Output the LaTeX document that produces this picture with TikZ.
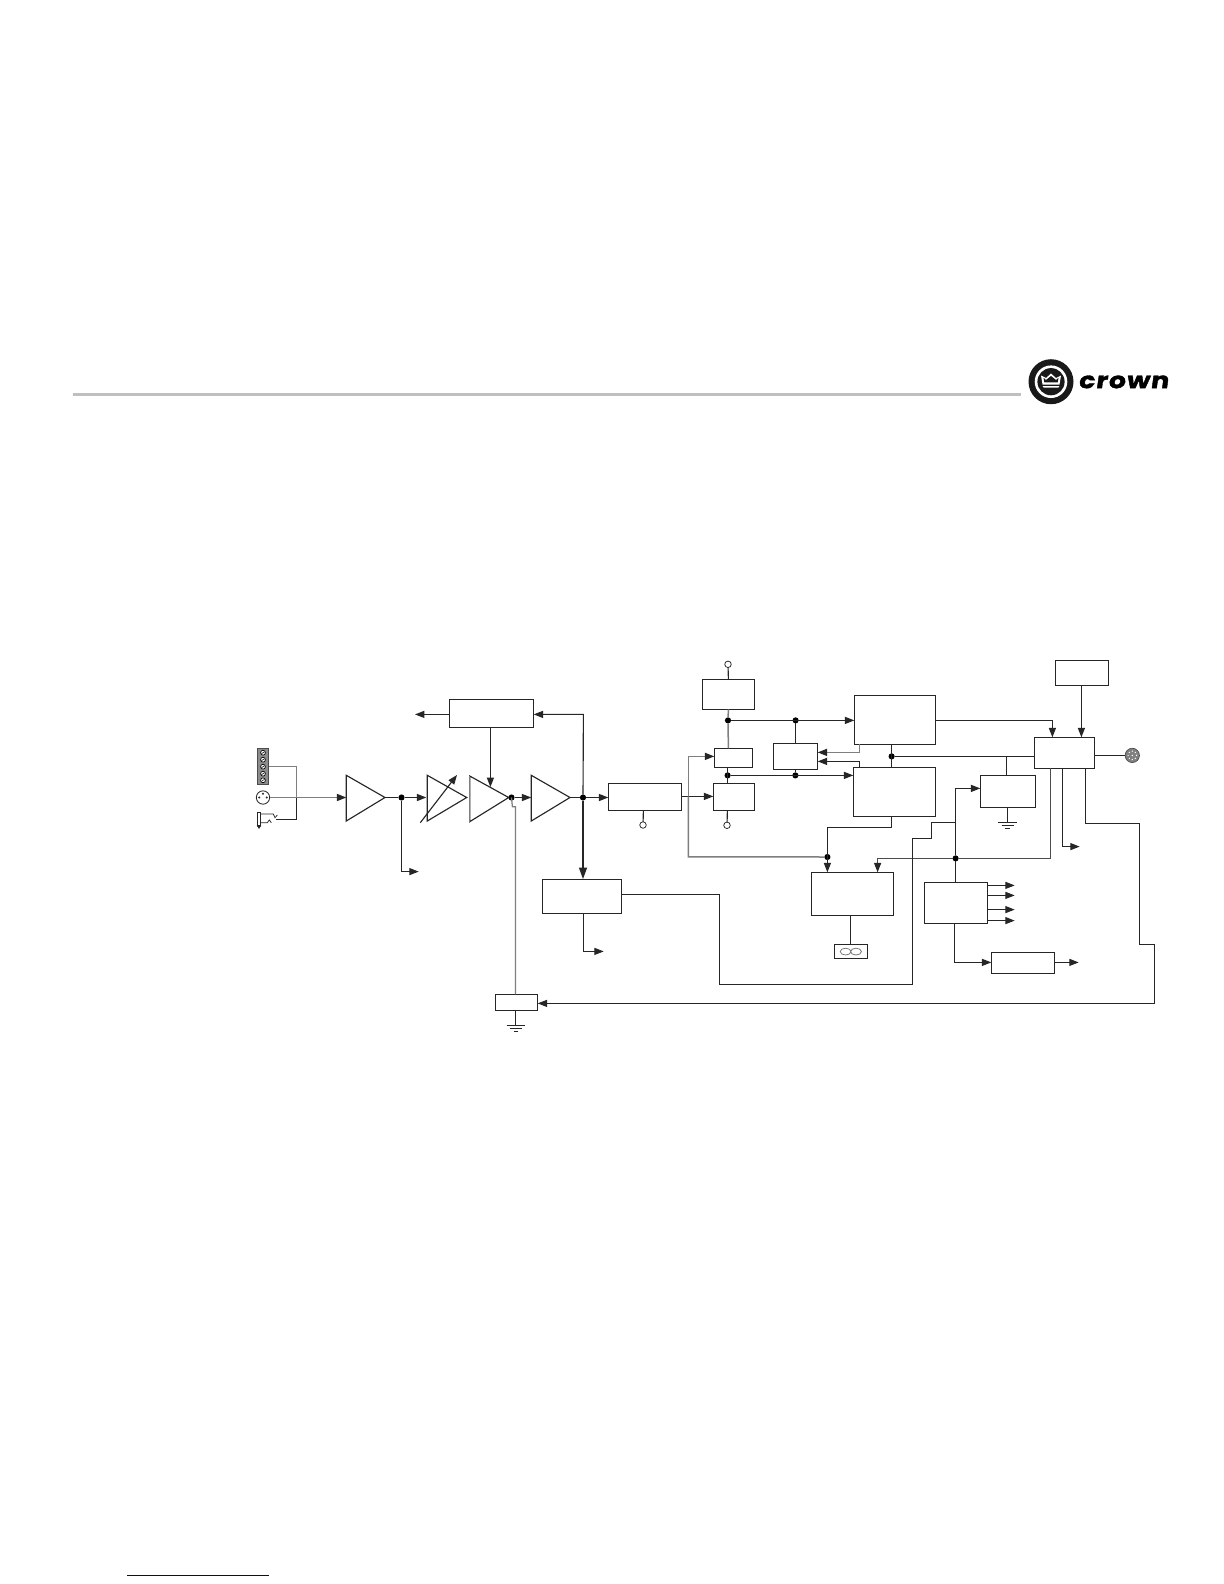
\documentclass[tikz,border=0pt]{standalone}
\usepackage{fontspec}
\setmainfont{Liberation Sans}
\newfontfamily\logofont{Poppins}
\usetikzlibrary{arrows.meta,fit,calc}
\definecolor{gline}{HTML}{7F7F7F}
\tikzset{
  ln/.style={line width=0.68pt,draw=black!85},
  gl/.style={line width=0.75pt,draw=gline},
  tick/.style={line width=1.25pt,draw=black!85},
  arr/.style={ln,-{Triangle[length=5.6pt,width=4.2pt,black!85]}},
  garr/.style={gl,-{Triangle[length=5.6pt,width=4.2pt,black!85]}},
  tarr/.style={tick,-{Triangle[length=7pt,width=4.6pt,black!85]}},
  bx/.style={draw=black!85,line width=0.68pt,inner sep=0pt,outer sep=0pt},
  dot/.style={circle,fill=black,inner sep=0pt,minimum size=3.7pt,outer sep=0pt},
  port/.style={circle,draw=black!85,fill=white,line width=0.45pt,inner sep=0pt,minimum size=3.9pt,outer sep=0pt},
}
\newcommand{\boxat}[5]{\node[bx,fit={(#2,#3)(#4,#5)}] (#1) {};}
\newcommand{\ampat}[6]{% name xleft ytop ybot xapex ymid
  \coordinate (#1in) at (#2,#6);\coordinate (#1out) at (#5,#6);
  \draw[ln,line join=miter] (#2,#3)--(#5,#6)--(#2,#4)--cycle;}
\begin{document}
\begin{tikzpicture}[x=0.6pt,y=-0.6pt]
\useasboundingbox (0,0) rectangle (1224,1584);
\fill[white] (0,0) rectangle (1224,1584);
% header rule, footer rule
\coordinate (ruleA) at (73,394.3);\coordinate (ruleB) at (1021,394.3);
\draw[line width=1.8pt,draw=black!25] (ruleA)--(ruleB);
\coordinate (footA) at (127,1575.5);\coordinate (footB) at (269,1575.5);
\draw[line width=0.65pt,draw=blue!55!black] (footA)--(footB);
% logo
\fill[black!90] (1051,381.7) circle (22.5);
\fill[white] (1051,381.7) circle (16.3);
\fill[black!90] (1051,381.7) circle (13.6);
\fill[white] (1041,375.5)--(1046,378)--(1051,373.5)--(1056,378)--(1061,375.5)--(1059.5,384.5)--(1042.5,384.5)--cycle;
\fill[black!90] (1043.5,377.8)--(1046,380)--(1051,376)--(1056,380)--(1058.5,377.8)--(1057.7,382.3)--(1044.3,382.3)--cycle;
\fill[white] (1042.5,386)--(1059.5,386)--(1058.3,387.6)--(1043.7,387.6)--cycle;
\node[inner sep=0pt,anchor=west] (logo) at (1078,381.9) {\resizebox{54pt}{7.6pt}{\logofont\bfseries\addfontfeature{FakeSlant=0.12,FakeBold=1.5,LetterSpace=4}crown}};
% boxes
\boxat{fb}{449.5}{699.3}{533.7}{727.3}
\boxat{lim}{542.3}{879.3}{621.7}{913.3}
\boxat{gnd}{495.3}{994.3}{537.7}{1010.3}
\boxat{ba}{702.3}{679.3}{754.7}{709.3}
\boxat{bb}{714.3}{748.3}{752.7}{767.3}
\boxat{bc}{713.3}{783.3}{754.7}{810.3}
\boxat{bd}{773.3}{743.3}{817.7}{769.3}
\boxat{be}{854.3}{695.3}{935.7}{744.3}
\boxat{bf}{853.3}{767.3}{935.7}{816.3}
\boxat{bg}{608.3}{783.3}{681.7}{810.3}
\boxat{bh}{811.3}{872.3}{893.7}{915.7}
\boxat{fan}{834.3}{944.3}{867.7}{958.7}
\boxat{bi}{1055.3}{660.3}{1108.7}{685.3}
\boxat{bj}{1034.3}{737.3}{1094.7}{768.3}
\boxat{bk}{980.3}{775.3}{1035.7}{807.3}
\boxat{bl}{924.3}{882.3}{987.7}{923.7}
\boxat{bm}{991.3}{952.3}{1054.7}{973.3}
% amplifier triangles
\ampat{ta}{346.3}{775.3}{821}{385}{797.5}
\ampat{tb}{427.3}{775.3}{821}{466.7}{797.5}
\ampat{tc}{469.7}{776}{821.7}{508.7}{797.5}
\draw[gl] (469.7,776)--(469.7,821.7);
\ampat{td}{531.3}{775.3}{821}{570}{797.5}
% variable-gain arrow
\coordinate (vgA) at (420.3,822.7);\coordinate (vgB) at (457,775);
\draw[arr] (vgA)--(vgB);
% junctions
\node[dot] (j1) at (401.5,797.5) {};
\node[dot] (j2) at (511.5,797.5) {};
\node[dot] (j3) at (583,797.5) {};
\node[dot] (j4) at (728,720.4) {};
\node[dot] (j5) at (795.6,720.4) {};
\node[dot] (j6) at (727.6,775.4) {};
\node[dot] (j7) at (795.4,775.4) {};
\node[dot] (j8) at (891.6,756.4) {};
\node[dot] (j9) at (827.4,857) {};
\node[dot] (j10) at (955.6,858.4) {};
% open ports
\node[port] (p1) at (728,664.3) {};
\node[port] (p2) at (643,825) {};
\node[port] (p3) at (727,825.3) {};
% inputs
\node[draw=black!70,fill=black!45,line width=0.4pt,inner sep=0pt,fit={(257.3,748.3)(268.7,784)}] (strip) {};
\foreach \yy in {752.7,759.7,766.7,773.7,780.3}{\draw[black,fill=white,line width=0.4pt] (263,\yy) circle (2.4);\draw[black,line width=0.3pt] (261.5,\yy+1)--(264.5,\yy-1);}
\node[circle,draw=black!85,line width=0.5pt,inner sep=0pt,minimum size=8pt] (xlr) at (263,797.5) {};
\fill[black!85] (259.3,797.5) circle (1.1) (266.7,797.5) circle (1.1) (263,793.8) circle (1.1);
\node[bx,line width=0.5pt,fit={(257.3,812.3)(260.7,825)}] (jack) {};
\coordinate (jk1) at (273.3,814);\coordinate (jk2) at (277.3,815);\coordinate (jk3) at (276,819.4);
\draw[ln,line width=0.45pt] (260.7,814)--(jk1)--(275,817.7)--(jk2);
\draw[ln,line width=0.45pt] (260.7,822.7)--(267.3,822.7)--(269.3,820)--(271.3,822.7);
\coordinate (jkg) at (259,829);
\draw[ln,line width=0.5pt,-{Latex[length=2pt,width=3pt]}] (jack.south)--(jkg);
\draw[gl] (strip.east |- 0,766.6)--(296.4,766.6)--(296.4,797);
\draw[ln] (296.4,797)--(296.4,819.4)--(jk3);
\draw[garr] (xlr.east)--(tain);
% signal chain
\draw[ln] (taout)--(j1);
\draw[arr,shorten >=0.6pt] (j1)--(tbin);
\coordinate (h1) at (418.7,871.6);
\draw[arr] (j1)--(401.5,871.6)--(h1);
\draw[ln] (tcout)--(j2);
\draw[arr] (j2)--(tdin);
\draw[ln] (tdout)--(j3);
\draw[arr] (j3)--(bg.west |- j3);
% feedback box
\coordinate (h2) at (415,714.4);
\draw[arr] (fb.west |- h2)--(h2);
\draw[arr] (j3)--(583.4,714.4)--(fb.east |- h2);
\coordinate (tcTop) at (490.4,787);
\draw[arr] (fb.south -| tcTop)--(tcTop);
\draw[tarr] (j3)--(lim.north -| j3);
\coordinate (h3) at (603.7,951.4);
\draw[arr] (583.6,0 |- lim.south)--(583.6,951.4)--(h3);
% ground return line
\draw[gl] (j2.center)--(512.4,806.7)--(515.6,806.7)--(515.6,0 |- gnd.north);
\coordinate (g1) at (515.6,1025.4);
\draw[ln] (515.6,0 |- gnd.south)--(g1);
\draw[ln] (506.7,1025.4)--(524.7,1025.4) (509.7,1028.4)--(521.7,1028.4) (513.7,1031.4)--(517.7,1031.4);
% power rail column
\draw[ln] (p1)--(728.4,0 |- ba.north);
\draw[gl,line width=0.9pt] (728.4,0 |- ba.south)--(j4);
\draw[gl,line width=0.9pt] (j4)--(728.4,0 |- bb.north);
\draw[arr] (j4)--(be.west |- j4);
\draw[ln] (j5)--(j5 |- bd.north);
\draw[ln] (727.6,0 |- bb.south)--(727.6,0 |- bc.north);
\draw[arr] (j6)--(bf.west |- j6);
\draw[ln] (j7)--(j7 |- bd.south);
\draw[ln] (643.4,0 |- bg.south)--(p2);
\draw[ln] (727.4,0 |- bc.south)--(p3);
\coordinate (v1) at (688.4,796.4);
\draw[arr] (bg.east |- v1)--(bc.west |- v1);
\draw[garr] (v1)--(688.4,756.4)--(bb.west |- 0,756.4);
\draw[gl,line width=0.9pt] (688.4,796.4)--(688.4,856.8)--(j9);
\draw[arr] (bf.south -| j8)--(891.6,827.4)--(827.4,827.4)--(827.4,0 |- bh.north);
\draw[garr] (859.4,0 |- be.south)--(859.4,752.4)--(bd.east |- 0,752.4);
\draw[arr] (859.4,0 |- bf.north)--(859.4,761.4)--(bd.east |- 0,761.4);
\draw[ln] (be.south -| j8)--(bf.north -| j8);
\draw[ln] (j8)--(bj.west |- j8);
\draw[ln] (1006.4,0 |- j8)--(1006.4,0 |- bk.north);
\coordinate (g2) at (1007.4,822.4);
\draw[ln] (1007.4,0 |- bk.south)--(g2);
\draw[ln] (998.3,822.4)--(1017,822.4) (1001.5,825.4)--(1013.5,825.4) (1005,828.4)--(1010,828.4);
% arrow to box H and long line from box J
\coordinate (bjd) at (1050.4,858.4);
\draw[ln,draw=black!70] (1050.4,0 |- bj.south)--(bjd)--(j10);
\draw[arr,draw=black!70] (j10)--(877.6,858.4)--(877.6,0 |- bh.north);
% limiter to step line
\draw[arr] (lim.east |- 0,894.4)--(719.4,894.4)--(719.4,984.4)--(912.4,984.4)--(912.4,838.6)--(931.4,838.6)--(931.4,822.4)--(955.6,822.4)--(955.6,788.4)--(bk.west |- 0,788.4);
\draw[ln] (955.6,822.4)--(j10);
\draw[ln] (j10)--(bl.north -| j10);
% fan
\draw[ln] (850.4,0 |- bh.south)--(850.4,0 |- fan.north);
\draw[draw=black!55,line width=0.45pt] (845.6,951.6) ellipse (5.4 and 3.4) (856,951.6) ellipse (5.4 and 3.4);
% box J surroundings
\draw[arr] (be.east |- j4)--(1052.4,720.4)--(1052.4,0 |- bj.north);
\draw[arr] (1081.4,0 |- bi.south)--(1081.4,0 |- bj.north);
\node[circle,draw=black!70,fill=black!50,line width=0.4pt,inner sep=0pt,minimum size=8.6pt] (din) at (1132.3,755.4) {};
\foreach \aa in {0,45,...,315}{\fill[white] (1132.3,755.4)+(\aa:4.2) circle (0.7);}
\fill[white] (1132.3,755.4) circle (0.8);
\draw[ln] (bj.east |- din)--(din);
\coordinate (h4) at (1079.7,846.6);
\draw[arr] (1062.4,0 |- bj.south)--(1062.4,846.6)--(h4);
\draw[arr] (1085.4,0 |- bj.south)--(1085.4,823.4)--(1139.4,823.4)--(1139.4,944.4)--(1154.4,944.4)--(1154.4,1003.4)--(gnd.east |- 0,1003.4);
% box L outputs
\foreach \yy/\nn in {885.4/a,895.4/b,909.6/c,920.6/d}{\coordinate (o\nn) at (1014.7,\yy);\draw[arr] (bl.east |- o\nn)--(o\nn);}
\draw[arr] (954.4,0 |- bl.south)--(954.4,962.4)--(bm.west |- 0,962.4);
\coordinate (h5) at (1078.7,962.4);
\draw[arr] (bm.east |- h5)--(h5);
\end{tikzpicture}
\end{document}
